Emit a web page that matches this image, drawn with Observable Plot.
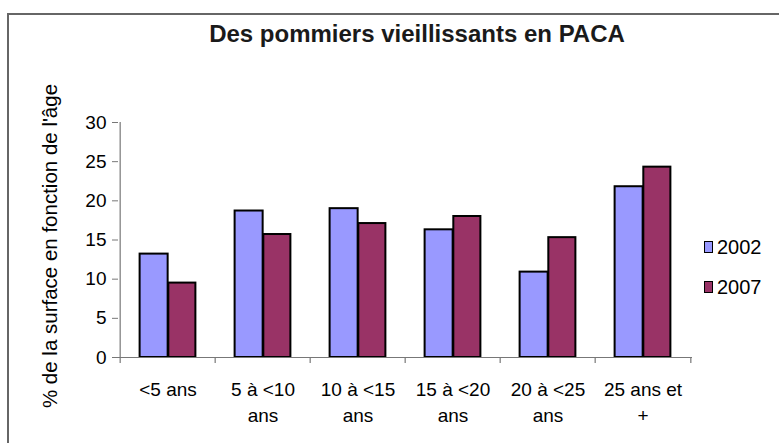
<!DOCTYPE html>
<html>
<head>
<meta charset="utf-8">
<script src="https://cdn.jsdelivr.net/npm/d3@7"></script>
<script src="https://cdn.jsdelivr.net/npm/@observablehq/plot@0.6"></script>
<style>
  html, body { margin: 0; padding: 0; background: #fff; }
  #wrap { position: relative; width: 779px; height: 443px; overflow: hidden; font-family: "Liberation Sans", Arial, sans-serif; }
  #frame { position: absolute; left: 7px; top: 13px; width: 800px; height: 500px; border-top: 2px solid #666; border-left: 2px solid #666; }
  #title { position: absolute; left: 0; width: 834px; top: 20px; text-align: center; font-weight: bold; font-size: 24px; color: #1a1a1a; }
  #legend { position: absolute; left: 704px; top: 236px; font-size: 20px; color: #000; }
  .item { display: flex; align-items: center; height: 22px; margin-bottom: 18px; }
  .sw { width: 7px; height: 10px; border: 1.5px solid #000; margin-right: 4px; box-sizing: content-box; }
  svg { position: absolute; left: 0; top: 0; }
</style>
</head>
<body>
<div id="wrap">
  <div id="frame"></div>
  <div id="title">Des pommiers vieillissants en PACA</div>
  <div id="chart"></div>
  <div id="legend"></div>
</div>
<script>
const categories = ["<5 ans", "5 à <10 ans", "10 à <15 ans", "15 à <20 ans", "20 à <25 ans", "25 ans et +"];
const tickLabels = ["<5 ans", "5 à <10\nans", "10 à <15\nans", "15 à <20\nans", "20 à <25\nans", "25 ans et\n+"];
const series = ["2002", "2007"];
const values2002 = [13.2, 18.7, 19.0, 16.3, 10.9, 21.8];
const values2007 = [9.5, 15.7, 17.1, 18.0, 15.3, 24.3];
const colors = ["#9999FF", "#993366"];
const yTicks = [0, 5, 10, 15, 20, 25, 30];
const yLabel = "% de la surface en fonction de l'âge";

const W = 779, H = 443, ML = 118, MR = 87, MT = 122, MB = 86;
const bw = (W - ML - MR) / categories.length;
const barW = bw * 0.3, outer = bw * 0.205;

const d2002 = categories.map((c, i) => ({cat: c, value: values2002[i]}));
const d2007 = categories.map((c, i) => ({cat: c, value: values2007[i]}));

const plot = Plot.plot({
  width: W, height: H,
  marginLeft: ML, marginRight: MR, marginTop: MT, marginBottom: MB,
  style: {fontFamily: "'Liberation Sans', Arial, sans-serif", fontSize: "19px", color: "#000", background: "transparent"},
  x: {domain: categories, padding: 0},
  y: {domain: [0, 30]},
  marks: [
    Plot.barY(d2002, {x: "cat", y: "value", fill: colors[0], stroke: "#000", strokeWidth: 2,
      insetLeft: outer, insetRight: bw - outer - barW}),
    Plot.barY(d2007, {x: "cat", y: "value", fill: colors[1], stroke: "#000", strokeWidth: 2,
      insetLeft: outer + barW, insetRight: outer}),
    Plot.ruleY([0], {stroke: "#777", strokeWidth: 1.2}),
    Plot.ruleX([0], {x: () => categories[0], dx: -bw / 2, stroke: "#777", strokeWidth: 1.2}),
    Plot.ruleX(categories, {x: d => d, dx: -bw / 2, y1: 0, y2: 0, insetBottom: -6, stroke: "#777", strokeWidth: 1.2}),
    Plot.ruleX([categories[categories.length - 1]], {x: d => d, dx: bw / 2, y1: 0, y2: 0, insetBottom: -6, stroke: "#777", strokeWidth: 1.2}),
    Plot.axisY({ticks: yTicks, tickSize: 6, tickPadding: 6, stroke: "#777", fontSize: 19,
      label: yLabel, labelAnchor: "center", labelArrow: "none", labelOffset: 76}),
    Plot.axisX({tickSize: 0, tickPadding: 21, tickFormat: d => tickLabels[categories.indexOf(d)], lineHeight: 1.33, fontSize: 19, label: null})
  ]
});
document.getElementById("chart").appendChild(plot);
// enlarge the y-axis title font and nudge it slightly downward
plot.querySelectorAll("g[aria-label='y-axis label']").forEach(n => n.setAttribute("font-size", "20.5"));
plot.querySelectorAll("g[aria-label='y-axis label'] text").forEach(n => { n.setAttribute("font-size", "20.5"); n.setAttribute("dx", "-6"); });

const legend = document.getElementById("legend");
series.forEach((s, i) => {
  const it = document.createElement("div");
  it.className = "item";
  const sw = document.createElement("span");
  sw.className = "sw";
  sw.style.background = colors[i];
  it.appendChild(sw);
  it.appendChild(document.createTextNode(s));
  legend.appendChild(it);
});
</script>
</body>
</html>
